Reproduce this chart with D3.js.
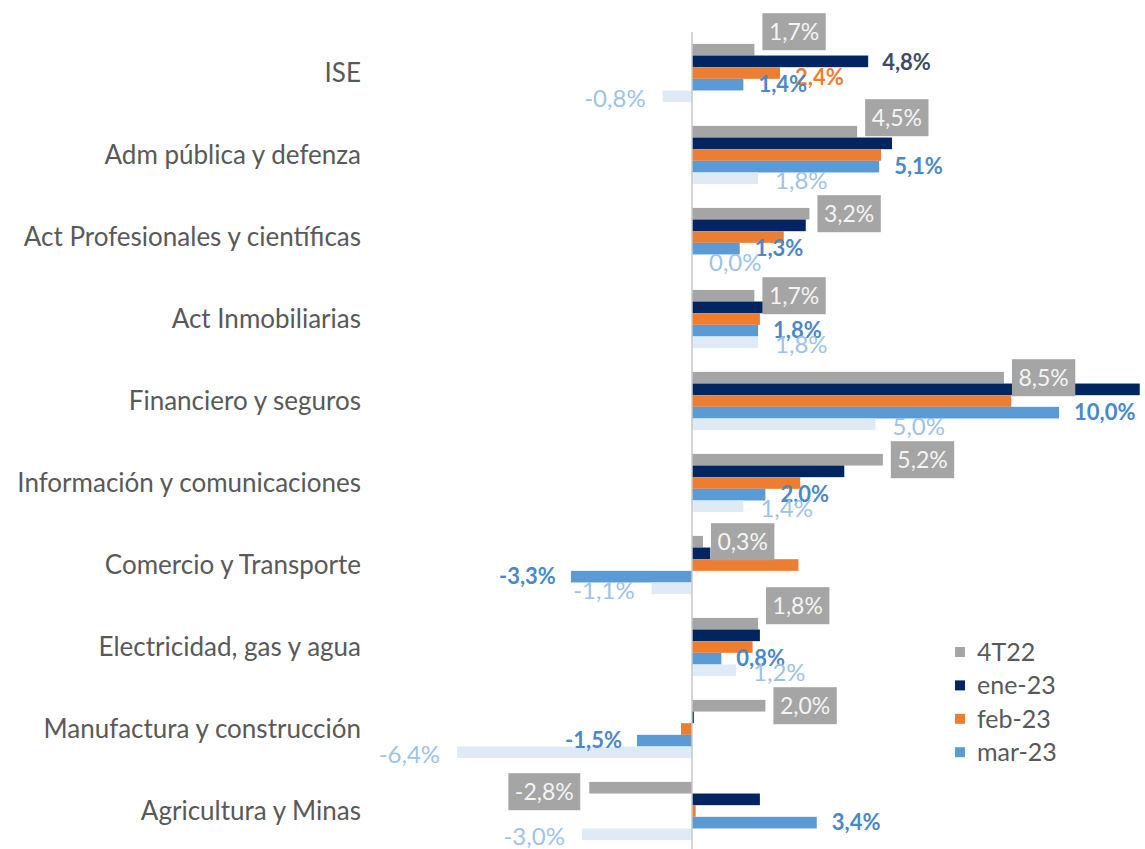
<!DOCTYPE html>
<meta charset="utf-8">
<style>
body { margin: 0; background: #fff; }
svg { font-family: Lato, "Open Sans", sans-serif; }
.cat { fill: #595959; font-size: 26px; }
.legend text { fill: #595959; font-size: 25px; }
</style>
<body>
<script src="https://d3js.org/d3.v7.min.js"></script>
<script>

// categorias y series (valores en %)
var categorias = ["ISE", "Adm pública y defenza", "Act Profesionales y científicas",
  "Act Inmobiliarias", "Financiero y seguros", "Información y comunicaciones",
  "Comercio y Transporte", "Electricidad, gas y agua", "Manufactura y construcción",
  "Agricultura y Minas"];

var series = ["4T22", "ene-23", "feb-23", "mar-23", "extra"];
var enLeyenda = ["4T22", "ene-23", "feb-23", "mar-23"];

var v4T22  = [1.7, 4.5, 3.2, 1.7, 8.5, 5.2, 0.3, 1.8, 2.0, -2.8];
var vEne23 = [4.8, 5.45, 3.1, 2.0, 12.2, 4.15, 0.5, 1.85, 0.05, 1.85];
var vFeb23 = [2.4, 5.15, 2.5, 1.85, 8.7, 2.95, 2.9, 1.65, -0.3, 0.1];
var vMar23 = [1.4, 5.1, 1.3, 1.8, 10.0, 2.0, -3.3, 0.8, -1.5, 3.4];
var vExtra = [-0.8, 1.8, 0.0, 1.8, 5.0, 1.4, -1.1, 1.2, -6.4, -3.0];

// que etiquetas se muestran por serie
var conEtiqueta = {
  "4T22": categorias,
  "ene-23": ["ISE"],
  "feb-23": ["ISE"],
  "mar-23": categorias,
  "extra": categorias
};

var colores = {"4T22": "#a5a5a5", "ene-23": "#002561", "feb-23": "#ed7d31", "mar-23": "#5b9bd5", "extra": "#deeaf6"};

var width = 1145, height = 849;

var porSerie = {"4T22": v4T22, "ene-23": vEne23, "feb-23": vFeb23, "mar-23": vMar23, "extra": vExtra};
var datos = [];
categorias.forEach(function(c, i) {
  series.forEach(function(s) { datos.push({cat: c, serie: s, valor: porSerie[s][i]}); });
});

var svg = d3.select("body").append("svg")
    .attr("width", width)
    .attr("height", height);

var x = d3.scaleLinear()
    .domain([-8, 12.2])
    .range([692 - 8 * 36.7, 692 + 12.2 * 36.7]);

var y = d3.scaleBand()
    .domain(categorias)
    .range([32, 852])
    .paddingInner(0.29)
    .paddingOuter(0.145);

var ySub = d3.scaleBand()
    .domain(series)
    .range([0, y.bandwidth()]);

// barras
svg.append("g").selectAll("rect")
  .data(datos)
  .enter().append("rect")
    .attr("x", function(d) { return x(Math.min(0, d.valor)); })
    .attr("y", function(d) { return y(d.cat) + ySub(d.serie); })
    .attr("width", function(d) { return Math.abs(x(d.valor) - x(0)); })
    .attr("height", ySub.bandwidth())
    .style("fill", function(d) { return colores[d.serie]; });

// eje vertical en cero
svg.append("line")
    .attr("x1", x(0)).attr("x2", x(0))
    .attr("y1", 32).attr("y2", height)
    .style("stroke", "#c8c8c8")
    .style("stroke-width", 1.5);

// nombres de categorias
svg.append("g").selectAll("text")
  .data(categorias)
  .enter().append("text")
    .attr("class", "cat")
    .attr("x", 361)
    .attr("y", function(d) { return y(d) + y.bandwidth() / 2; })
    .attr("dy", "0.35em")
    .attr("text-anchor", "end")
    .text(function(d) { return d; });

var locale = d3.formatLocale({decimal: ",", thousands: ".", grouping: [3], currency: ["", ""], minus: "-"});
var fmt = function(v) { return locale.format(".1f")(v) + "%"; };
var mostrar = function(d) { return conEtiqueta[d.serie].indexOf(d.cat) >= 0; };
var centroY = function(d) { return y(d.cat) + ySub(d.serie) + ySub.bandwidth() / 2; };

// etiquetas 4T22 en caja gris
var ajusteCaja = {"ISE": -18, "Adm pública y defenza": -14, "Electricidad, gas y agua": -18, "Agricultura y Minas": 4};
var cajas = svg.append("g").selectAll("g")
  .data(datos.filter(function(d) { return d.serie == "4T22"; }))
  .enter().append("g");

cajas.each(function(d) {
  var g = d3.select(this);
  var t = g.append("text")
      .style("font-size", "23px")
      .style("fill", "#f4f4f4")
      .attr("text-anchor", "middle")
      .attr("dy", "0.35em")
      .text(fmt(d.valor));
  var w = t.node().getComputedTextLength() + 13;
  var cy = centroY(d) + (ajusteCaja[d.cat] || 0);
  var x0 = d.valor >= 0 ? x(d.valor) + 8 : x(d.valor) - 9 - w;
  g.insert("rect", "text")
      .attr("x", x0).attr("y", cy - 18.5)
      .attr("width", w).attr("height", 37)
      .style("fill", "#a5a5a5");
  t.attr("x", x0 + w / 2).attr("y", cy);
});

// etiquetas de las demas series
var estiloEtiqueta = {
  "ene-23": {color: "#3e4c63", peso: "bold", size: 22, sep: 14, dy: 1},
  "feb-23": {color: "#ed7d31", peso: "bold", size: 22, sep: 15, dy: 4},
  "mar-23": {color: "#4a88c9", peso: "bold", size: 22, sep: 15, dy: 0},
  "extra":  {color: "#9dc3e6", peso: "normal", size: 24, sep: 17, dy: 2}
};

svg.append("g").selectAll("text")
  .data(datos.filter(function(d) { return d.serie != "4T22" && mostrar(d); }))
  .enter().append("text")
    .attr("x", function(d) {
      var e = estiloEtiqueta[d.serie];
      return d.valor >= 0 ? x(d.valor) + e.sep : x(d.valor) - e.sep;
    })
    .attr("y", function(d) { return centroY(d) + estiloEtiqueta[d.serie].dy; })
    .attr("dy", "0.35em")
    .attr("text-anchor", function(d) { return d.valor >= 0 ? "start" : "end"; })
    .style("fill", function(d) { return estiloEtiqueta[d.serie].color; })
    .style("font-weight", function(d) { return estiloEtiqueta[d.serie].peso; })
    .style("font-size", function(d) { return estiloEtiqueta[d.serie].size + "px"; })
    .text(function(d) { return fmt(d.valor); });

// leyenda
var leyenda = svg.append("g")
    .attr("class", "legend")
    .selectAll("g")
    .data(enLeyenda)
    .enter().append("g")
    .attr("transform", function(d, i) { return "translate(955," + (652 + i * 33.4) + ")"; });

leyenda.append("rect")
    .attr("x", 0).attr("y", -5)
    .attr("width", 10).attr("height", 10)
    .style("fill", function(d) { return colores[d]; });

leyenda.append("text")
    .attr("x", 22)
    .attr("dy", "0.35em")
    .text(function(d) { return d; });

</script>
</body>
